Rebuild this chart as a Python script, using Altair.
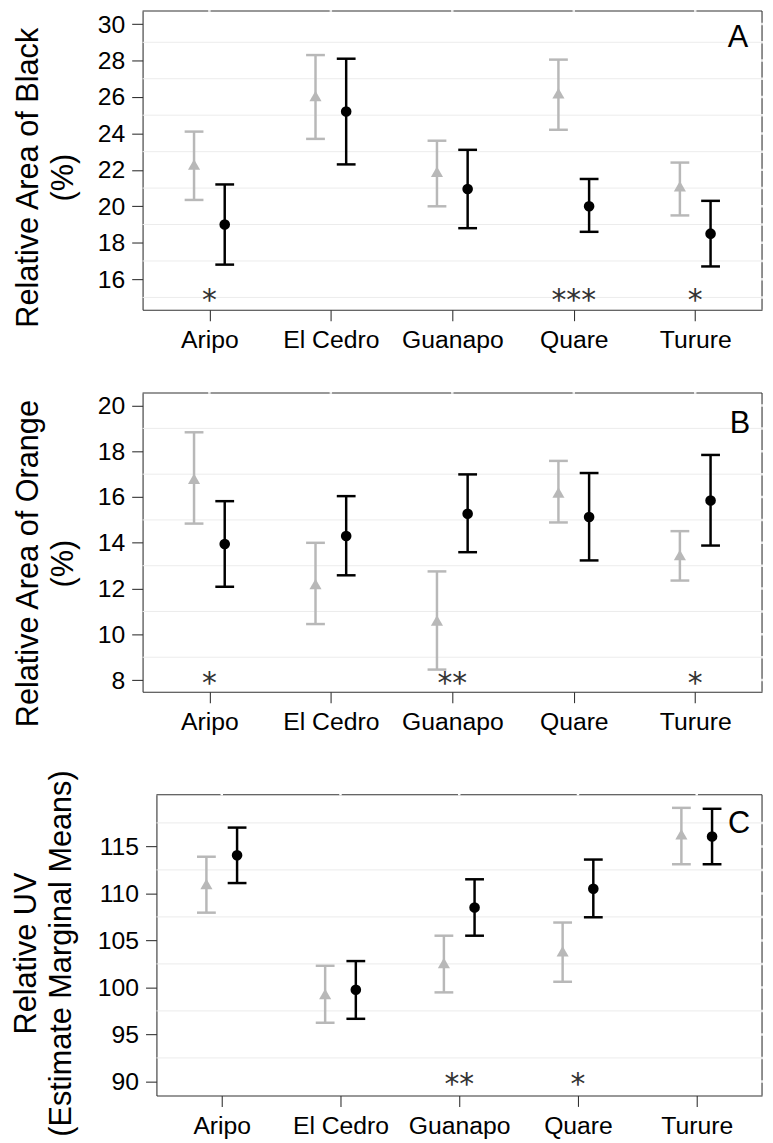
import altair as alt
import pandas as pd

# ---------------- data ----------------
sites = ["Aripo", "El Cedro", "Guanapo", "Quare", "Turure"]

A_grey_mean = [22.3, 26.05, 21.9, 26.2, 21.1]
A_grey_lo = [20.35, 23.7, 20.0, 24.2, 19.5]
A_grey_hi = [24.1, 28.3, 23.6, 28.05, 22.4]
A_black_mean = [19.0, 25.2, 20.95, 20.0, 18.5]
A_black_lo = [16.8, 22.3, 18.8, 18.6, 16.7]
A_black_hi = [21.2, 28.1, 23.1, 21.5, 20.3]
A_sig = ["*", "", "", "***", "*"]
A_ticks = [16, 18, 20, 22, 24, 26, 28, 30]
A_minor = [15, 17, 19, 21, 23, 25, 27, 29]

B_grey_mean = [16.8, 12.2, 10.6, 16.2, 13.47]
B_grey_lo = [14.84, 10.45, 8.46, 14.89, 12.35]
B_grey_hi = [18.83, 14.0, 12.75, 17.58, 14.51]
B_black_mean = [13.95, 14.3, 15.27, 15.13, 15.85]
B_black_lo = [12.08, 12.58, 13.59, 13.23, 13.88]
B_black_hi = [15.82, 16.04, 16.99, 17.05, 17.84]
B_sig = ["*", "", "**", "", "*"]
B_ticks = [8, 10, 12, 14, 16, 18, 20]
B_minor = [9, 11, 13, 15, 17, 19]

C_grey_mean = [111.0, 99.3, 102.6, 103.85, 116.3]
C_grey_lo = [107.95, 96.24, 99.47, 100.6, 113.1]
C_grey_hi = [113.9, 102.3, 105.5, 106.9, 119.1]
C_black_mean = [114.05, 99.75, 108.5, 110.5, 116.05]
C_black_lo = [111.1, 96.66, 105.5, 107.46, 113.1]
C_black_hi = [117.0, 102.8, 111.5, 113.6, 119.0]
C_sig = ["", "", "**", "*", ""]
C_ticks = [90, 95, 100, 105, 110, 115]
C_minor = [92.5, 97.5, 102.5, 107.5, 112.5, 117.5]

# ---------------- style ----------------
FONT = "Liberation Sans"
GREY = "#b8b8b8"
BLACK = "#000000"
AXC = "#333333"
DODGE = 15.5
W = 626


def panel(letter, title_lines, gm, gl, gh, bm, bl, bh, sig, sig_y, domain,
          ticks, minor, x0, H, title_x, title_y, letter_dx, letter_y):
    rows = []
    for i, s in enumerate(sites):
        rows.append(dict(site=s, group="grey", mean=gm[i], lo=gl[i], hi=gh[i]))
        rows.append(dict(site=s, group="black", mean=bm[i], lo=bl[i], hi=bh[i]))
    df = pd.DataFrame(rows)

    yaxis = alt.Axis(
        title=title_lines, values=ticks, grid=False, format="d", offset=-x0,
        labelFont=FONT, labelFontSize=25, labelColor="black", labelPadding=7,
        tickSize=11, tickColor=AXC, tickWidth=1.1,
        domainColor=AXC, domainWidth=1.1,
        titleFont=FONT, titleFontSize=31, titleFontWeight="normal",
        titleColor="black", titleAngle=270, titleAlign="center",
        titleBaseline="top", titleLineHeight=35,
        titleX=title_x, titleY=title_y,
    )
    yscale = alt.Scale(domain=domain, nice=False, zero=False)

    def Y(field):
        return alt.Y(f"{field}:Q", scale=yscale, axis=yaxis)

    X = alt.X(
        "site:N", sort=sites,
        scale=alt.Scale(type="point", padding=0.55, range=[x0, W]),
        axis=alt.Axis(title=None, grid=False, labelAngle=0, labelFont=FONT,
                      labelFontSize=25, labelColor="black", labelPadding=7,
                      tickSize=11, tickColor=AXC, tickWidth=1.1,
                      domainColor=AXC, domainWidth=1.1),
    )

    one = pd.DataFrame({"k": [0]})
    grid_df = pd.DataFrame({"v": minor})
    gaps_df = pd.DataFrame({"v": sorted(set(ticks) | set(minor))})
    site_df = pd.DataFrame({"site": sites})
    sig_df = pd.DataFrame({"site": sites, "star": sig, "v": [sig_y] * len(sites)})

    layers = []
    # faint minor grid lines
    layers.append(alt.Chart(grid_df).mark_rule(color="#ececec", strokeWidth=1).encode(
        y=Y("v"), x=alt.value(x0), x2=alt.value(W)))
    # top & right border
    layers.append(alt.Chart(one).mark_rule(color=AXC, strokeWidth=1.1).encode(
        x=alt.value(x0), x2=alt.value(W), y=alt.value(0)))
    layers.append(alt.Chart(one).mark_rule(color=AXC, strokeWidth=1.1).encode(
        x=alt.value(W), y=alt.value(0), y2=alt.value(H)))
    # white gaps in border
    layers.append(alt.Chart(site_df).mark_rule(color="white", strokeWidth=2.5).encode(
        x=X, y=alt.value(-0.8), y2=alt.value(0.8)))
    layers.append(alt.Chart(gaps_df).mark_rule(color="white", strokeWidth=2.5).encode(
        y=Y("v"), x=alt.value(W - 0.8), x2=alt.value(W + 0.8)))

    for grp, color, off, shape, size in [("grey", GREY, -DODGE, "triangle-up", 150),
                                          ("black", BLACK, DODGE, "circle", 115)]:
        base = alt.Chart(df).transform_filter(alt.datum.group == grp)
        layers.append(base.mark_rule(color=color, strokeWidth=2.5, xOffset=off).encode(
            x=X, y=Y("lo"), y2="hi"))
        layers.append(base.mark_tick(color=color, thickness=2.5, size=19, xOffset=off,
                                     orient="horizontal", opacity=1).encode(x=X, y=Y("lo")))
        layers.append(base.mark_tick(color=color, thickness=2.5, size=19, xOffset=off,
                                     orient="horizontal", opacity=1).encode(x=X, y=Y("hi")))
        layers.append(base.mark_point(shape=shape, filled=True, size=size, color=color,
                                      opacity=1, xOffset=off).encode(x=X, y=Y("mean")))

    layers.append(alt.Chart(sig_df).mark_text(font="DejaVu Sans", fontSize=30, color="#333333",
                                              baseline="middle", dy=4).encode(
        x=X, y=Y("v"), text="star:N"))
    layers.append(alt.Chart(one).mark_text(text=letter, font=FONT, fontSize=31, color="black",
                                           align="right", baseline="alphabetic").encode(
        x=alt.value(W - letter_dx), y=alt.value(letter_y)))

    return alt.layer(*layers).properties(width=W, height=H)


pA = panel("A", ["Relative Area of Black", "(%)"],
           A_grey_mean, A_grey_lo, A_grey_hi, A_black_mean, A_black_lo, A_black_hi,
           A_sig, 15, [14.32, 30.72], A_ticks, A_minor,
           0, 302, -130, 168, 14, 36)
pB = panel("B", ["Relative Area of Orange", "(%)"],
           B_grey_mean, B_grey_lo, B_grey_hi, B_black_mean, B_black_lo, B_black_hi,
           B_sig, 8, [7.49, 20.55], B_ticks, B_minor,
           0, 302, -130, 172, 12, 40)
pC = panel("C", ["Relative UV", "(Estimate Marginal Means)"],
           C_grey_mean, C_grey_lo, C_grey_hi, C_black_mean, C_black_lo, C_black_hi,
           C_sig, 90, [88.5, 120.5], C_ticks, C_minor,
           14, 304, -146, 160, 12, 39)

chart = alt.vconcat(
    alt.vconcat(pA, pB, spacing=38),
    pC, spacing=35,
).configure_view(stroke=None).properties(
    padding={"left": 3, "top": -6, "right": 0, "bottom": 0},
    background="white",
)

chart.save("out.html", embed_options={"renderer": "svg", "actions": False})
